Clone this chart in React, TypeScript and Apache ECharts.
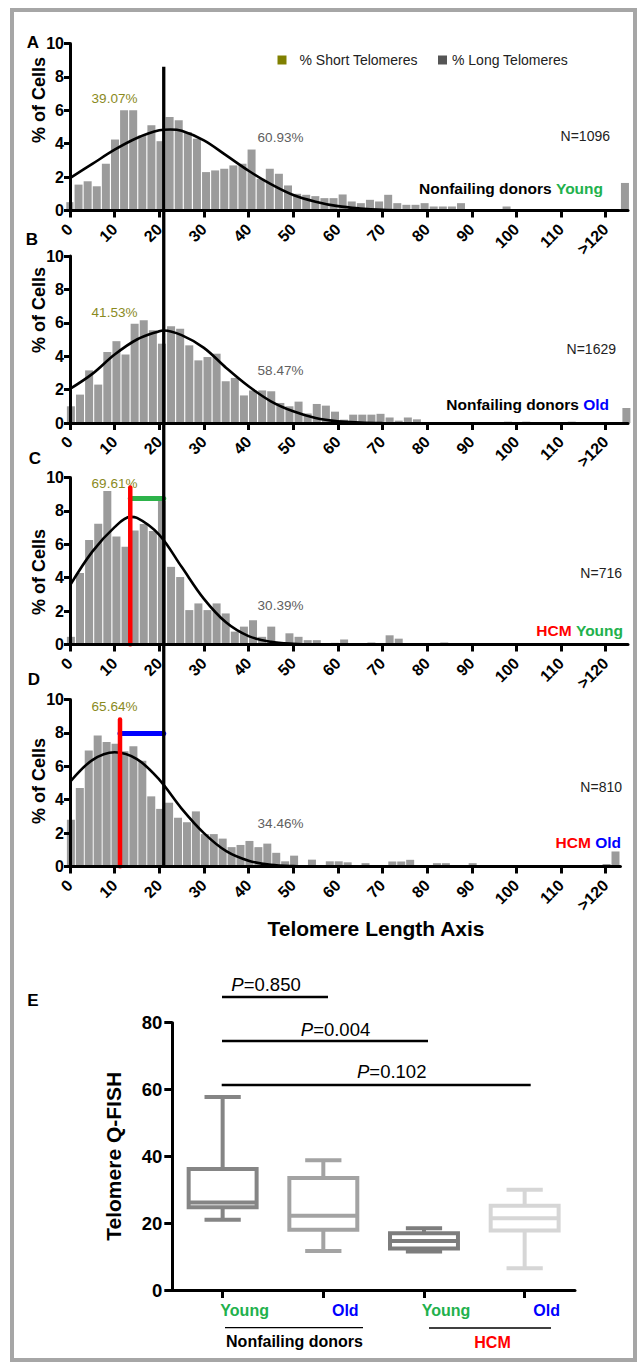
import React, { useEffect, useRef } from 'react';
import * as echarts from 'echarts';

const FONT = '"Liberation Sans", Arial, Helvetica, sans-serif';

// ---------- data ----------
const binLabels = ['0','2','4','6','8','10','12','14','16','18','20','22','24','26','28','30','32','34','36','38','40','42','44','46','48','50','52','54','56','58','60','62','64','66','68','70','72','74','76','78','80','82','84','86','88','90','92','94','96','98','100','102','104','106','108','110','112','114','116','118','120','>120'];
const xTickValues = [0, 10, 20, 30, 40, 50, 60, 70, 80, 90, 100, 110, 120];
const xTickLabels = ['0', '10', '20', '30', '40', '50', '60', '70', '80', '90', '100', '110', '>120'];

const barsA = [0.5,1.55,1.75,1.45,2.8,4.25,6.0,6.0,4.5,5.1, 4.15,5.6,5.4,4.7,4.3,2.3,2.4,2.5,2.7,2.8, 3.65,1.9,2.5,2.2,1.5,1.0,0.94,0.86,0.74,0.74, 0.96,0.54,0.44,0.64,0.54,0.94,0.44,0.34,0.34,0.44, 0.24,0.24,0.24,0.44,0,0,0,0,0.24,0, 0,0,0,0,0,0,0,0,0,0, 0,1.65];
const barsB = [1.0,1.7,3.15,2.3,4.25,4.9,4.1,5.95,6.15,5.55, 4.75,5.8,5.65,4.65,3.75,3.95,4.15,2.5,2.7,1.65, 1.95,1.95,1.9,1.2,1.0,1.28,0.57,1.14,1.04,0.68, 0.2,0.5,0.5,0.5,0.55,0.33,0.14,0.33,0.22,0, 0,0,0,0.06,0,0,0,0,0.08,0, 0.08,0,0,0,0,0.08,0,0,0,0, 0,0.9];
const barsC = [0.46,4.28,6.26,7.23,9.19,6.46,5.86,6.83,7.21,6.8, 8.6,4.65,4.04,2.06,2.46,2.06,2.46,1.86,0.77,1.07, 1.45,0.46,1.07,0,0.67,0.46,0.26,0.26,0.06,0.1, 0.3,0,0,0.12,0,0.55,0.35,0,0,0, 0,0.12,0,0,0,0,0,0,0,0, 0,0,0,0,0,0,0,0,0,0, 0,0];
const barsD = [2.8,4.7,6.95,7.85,7.45,7.35,6.9,7.2,6.33,4.2, 3.45,3.82,2.92,2.65,3.3,1.94,1.94,1.67,1.16,1.29, 1.53,1.16,1.37,0.82,0.31,0.65,0,0.41,0,0.31, 0.31,0.25,0,0.2,0,0,0.3,0.3,0.4,0, 0,0.2,0.2,0,0,0.2,0,0,0,0, 0,0,0,0,0,0,0,0,0,0, 0.15,0.9];

const curveA = [[0,1.94],[5,2.79],[10,3.64],[15,4.34],[20,4.8],[22.5,4.85],[25,4.77],[30,4.2],[35,3.3],[40,2.38],[45,1.58],[50,0.93],[55,0.53],[60,0.26],[65,0.12],[70,0.04],[75,0.01]];
const curveB = [[0,2.04],[5,2.94],[10,4.1],[15,5.0],[20,5.5],[21,5.54],[25,5.26],[30,4.5],[35,3.3],[40,2.2],[45,1.3],[50,0.7],[55,0.3],[60,0.1],[65,0.03],[70,0.0]];
const curveC = [[0,3.54],[5,5.56],[10,7.03],[13.5,7.64],[15,7.58],[20,6.57],[25,4.65],[30,2.73],[35,1.31],[40,0.5],[45,0.16],[50,0.04],[55,0.0]];
const curveD = [[0,5.06],[5,6.37],[10,6.84],[15,6.43],[20,5.2],[25,3.47],[30,2.0],[35,0.92],[40,0.35],[45,0.1],[50,0.02],[55,0.0]];

const shortPct = ['39.07%', '41.53%', '69.61%', '65.64%'];
const longPct = ['60.93%', '58.47%', '30.39%', '34.46%'];
const cellCounts = ['N=1096', 'N=1629', 'N=716', 'N=810'];
const groupFirst = ['Nonfailing donors ', 'Nonfailing donors ', 'HCM ', 'HCM '];
const groupSecond = ['Young', 'Old', 'Young', 'Old'];
const panelLetters = ['A', 'B', 'C', 'D'];

const centerLine = [[21, 0], [21, 1]];
const cRedLine = [[13.5, 0], [13.5, 9.4]];
const cGreenLine = [[13.5, 8.75], [21, 8.75]];
const dRedLine = [[11.2, 0], [11.2, 8.8]];
const dBlueLine = [[11.2, 7.96], [21, 7.96]];

const boxCategories = ['Young', 'Old', 'Young', 'Old'];
// [min, Q1, median, Q3, max]
const boxStats = [
  [21.0, 24.8, 26.2, 36.2, 57.8],
  [11.7, 18.0, 22.2, 33.5, 38.8],
  [11.5, 12.4, 14.7, 17.0, 18.5],
  [6.5, 17.8, 21.5, 25.2, 30.0],
];
const pLabels = ['0.850', '0.004', '0.102'];

// ---------- layout / style ----------
const GREEN = '#22b14c';
const BLUE = '#0000ff';
const RED = '#ff0000';
const OLIVE = '#808000';
const PLOT_LEFT = 70;
const PX_PER_UNIT = 4.464;
const PANEL_H = 167;
const panelTops = [43.5, 256, 477.5, 699.5];
const panelXMax = [125, 125, 125, 123.3];
const binSpacing = [2.04, 2.04, 2.04, 2.0];
const FIRST_BIN_CENTER = 0.2;
const shortPos = [[114.5, 98.5], [114.5, 312], [114.5, 483.5], [114.5, 706]];
const longPos = [[280.5, 137], [280.5, 370], [280.5, 605], [280.5, 823]];
const nPos = [[610, 136], [616, 349], [622, 573], [622, 787]];
const groupPos = [[603, 188], [609, 404], [623, 630], [621, 842]];
const letterPos = [[33, 42], [32, 239], [35, 458.5], [34, 679]];
const yNamePos = [[38.5, 100], [38.5, 310], [38.5, 572], [38.5, 781]];
const groupColors = [GREEN, BLUE, GREEN, BLUE];
const boxColors = ['#858585', '#a3a3a3', '#7d7d7d', '#d6d6d6'];

function txt(x: number, y: number, text: string, font: string, fill = '#000', align = 'center', rotation = 0, rich?: any) {
  return {
    type: 'text', x, y, rotation, silent: true,
    style: { text, font, fill, align, verticalAlign: 'middle', rich },
  };
}

function buildOption() {
  const bars = [barsA, barsB, barsC, barsD];
  const curves = [curveA, curveB, curveC, curveD];
  const grid: any[] = [];
  const xAxis: any[] = [];
  const yAxis: any[] = [];
  const series: any[] = [];
  const graphic: any[] = [];

  for (let p = 0; p < 4; p++) {
    const top = panelTops[p];
    grid.push({ left: PLOT_LEFT, top, width: panelXMax[p] * PX_PER_UNIT, height: PANEL_H, outerBoundsMode: 'none' });
    const sp = binSpacing[p];
    grid.push({
      left: PLOT_LEFT + (FIRST_BIN_CENTER - sp / 2) * PX_PER_UNIT,
      top,
      width: binLabels.length * sp * PX_PER_UNIT,
      height: PANEL_H,
      outerBoundsMode: 'none',
    });
    xAxis.push({
      gridIndex: 2 * p, type: 'value', min: 0, max: panelXMax[p], z: 5,
      axisLine: { show: true, onZero: false, lineStyle: { color: '#000', width: 3 } },
      axisTick: { show: true, customValues: xTickValues, length: 7, lineStyle: { color: '#000', width: 3 } },
      axisLabel: {
        show: true, customValues: xTickValues, rotate: 45, margin: 16,
        fontSize: 16, fontWeight: 'bold', color: '#000', fontFamily: FONT,
        formatter: (v: number) => xTickLabels[xTickValues.indexOf(v)] ?? '',
      },
      splitLine: { show: false },
    });
    yAxis.push({
      gridIndex: 2 * p, type: 'value', min: 0, max: 10, interval: 2, z: 5,
      axisLine: { show: true, lineStyle: { color: '#000', width: 3 } },
      axisTick: { show: true, length: 6, lineStyle: { color: '#000', width: 3 } },
      axisLabel: { fontSize: 16, fontWeight: 'bold', color: '#000', margin: 6, fontFamily: FONT },
      splitLine: { show: false },
    });
    xAxis.push({ gridIndex: 2 * p + 1, type: 'category', data: binLabels, show: false, boundaryGap: true });
    yAxis.push({ gridIndex: 2 * p + 1, type: 'value', min: 0, max: 10, show: false });

    series.push({
      type: 'bar', xAxisIndex: 2 * p + 1, yAxisIndex: 2 * p + 1, data: bars[p],
      barWidth: 8, itemStyle: { color: '#9b9b9b' }, silent: true,
    });
    series.push({
      type: 'line', xAxisIndex: 2 * p, yAxisIndex: 2 * p, data: curves[p], smooth: 0.35,
      symbol: 'none', lineStyle: { color: '#000', width: 2.6 }, silent: true,
    });

    graphic.push(txt(letterPos[p][0], letterPos[p][1], panelLetters[p], `bold 17px ${FONT}`));
    graphic.push(txt(yNamePos[p][0], yNamePos[p][1], '% of Cells', `bold 18px ${FONT}`, '#000', 'center', Math.PI / 2));
    graphic.push(txt(shortPos[p][0], shortPos[p][1], shortPct[p], `13.5px ${FONT}`, '#8a8a1e'));
    graphic.push(txt(longPos[p][0], longPos[p][1], longPct[p], `13.5px ${FONT}`, '#606060'));
    graphic.push(txt(nPos[p][0], nPos[p][1], cellCounts[p], `14px ${FONT}`, '#222', 'right'));
    graphic.push(txt(groupPos[p][0], groupPos[p][1], `{a|${groupFirst[p]}}{b|${groupSecond[p]}}`, `bold 15.5px ${FONT}`, '#000', 'right', 0, {
      a: { fill: p < 2 ? '#000' : RED, font: `bold 15.5px ${FONT}` },
      b: { fill: groupColors[p], font: `bold 15.5px ${FONT}` },
    }));
  }

  const markerLine = (data: number[][], axis: number, color: string, width: number) => ({
    type: 'line', xAxisIndex: axis, yAxisIndex: axis, data, symbol: 'none', silent: true,
    lineStyle: { color, width, cap: 'round' }, z: 4,
  });
  series.push(markerLine(cGreenLine, 4, '#2db34a', 5));
  series.push(markerLine(cRedLine, 4, RED, 4.5));
  series.push(markerLine(dBlueLine, 6, BLUE, 5));
  series.push(markerLine(dRedLine, 6, RED, 4.5));

  series.push({ type: 'bar', name: '% Short Telomeres', xAxisIndex: 1, yAxisIndex: 1, data: [], itemStyle: { color: OLIVE } });
  series.push({ type: 'bar', name: '% Long Telomeres', xAxisIndex: 1, yAxisIndex: 1, data: [], itemStyle: { color: '#555555' } });

  grid.push({ left: PLOT_LEFT, top: 66.7, width: 125 * PX_PER_UNIT, height: 801, outerBoundsMode: 'none' });
  xAxis.push({ gridIndex: 8, type: 'value', min: 0, max: 125, show: false });
  yAxis.push({ gridIndex: 8, type: 'value', min: 0, max: 1, show: false });
  series.push({
    type: 'line', xAxisIndex: 8, yAxisIndex: 8, data: centerLine, symbol: 'none', silent: true,
    lineStyle: { color: '#000', width: 3.3 }, z: 6,
  });

  grid.push({ left: 172.3, top: 1022.7, width: 402.7, height: 267.3, outerBoundsMode: 'none' });
  xAxis.push({
    gridIndex: 9, type: 'category', data: boxCategories, boundaryGap: true,
    axisLine: { show: true, lineStyle: { color: '#000', width: 3 } },
    axisTick: { show: true, alignWithLabel: true, length: 8, lineStyle: { color: '#000', width: 3 } },
    axisLabel: {
      margin: 12, padding: [0, 0, 0, 44], fontFamily: FONT,
      formatter: (v: string, i: number) => (i % 2 === 0 ? `{y|${v}}` : `{o|${v}}`),
      rich: {
        y: { color: GREEN, fontSize: 16, fontWeight: 'bold', fontFamily: FONT },
        o: { color: BLUE, fontSize: 16, fontWeight: 'bold', fontFamily: FONT },
      },
    },
  });
  yAxis.push({
    gridIndex: 9, type: 'value', min: 0, max: 80, interval: 20,
    name: 'Telomere Q-FISH', nameLocation: 'middle', nameGap: 48,
    nameTextStyle: { fontSize: 21, fontWeight: 'bold', color: '#000', fontFamily: FONT },
    axisLine: { show: true, lineStyle: { color: '#000', width: 3 } },
    axisTick: { show: true, length: 8, lineStyle: { color: '#000', width: 3 } },
    axisLabel: { fontSize: 18.5, fontWeight: 'bold', color: '#000', margin: 10, fontFamily: FONT },
    splitLine: { show: false },
  });
  series.push({
    type: 'custom', xAxisIndex: 9, yAxisIndex: 9, silent: true,
    data: boxStats.map((s, i) => [i, ...s]),
    encode: { x: 0, y: [1, 2, 3, 4, 5] },
    renderItem: (params: any, api: any) => {
      const idx = api.value(0);
      const pMin = api.coord([idx, api.value(1)]);
      const pQ1 = api.coord([idx, api.value(2)]);
      const pMed = api.coord([idx, api.value(3)]);
      const pQ3 = api.coord([idx, api.value(4)]);
      const pMax = api.coord([idx, api.value(5)]);
      const band = api.size([1, 0])[0];
      const bw = band * 0.675;
      const cw = band * 0.36;
      const cx = pMed[0];
      const color = boxColors[params.dataIndex];
      const ls = { stroke: color, lineWidth: 4, fill: null };
      return {
        type: 'group',
        children: [
          { type: 'line', shape: { x1: cx, y1: pMax[1], x2: cx, y2: pQ3[1] }, style: ls },
          { type: 'line', shape: { x1: cx, y1: pQ1[1], x2: cx, y2: pMin[1] }, style: ls },
          { type: 'line', shape: { x1: cx - cw / 2, y1: pMax[1], x2: cx + cw / 2, y2: pMax[1] }, style: ls },
          { type: 'line', shape: { x1: cx - cw / 2, y1: pMin[1], x2: cx + cw / 2, y2: pMin[1] }, style: ls },
          { type: 'rect', shape: { x: cx - bw / 2, y: pQ3[1], width: bw, height: pQ1[1] - pQ3[1] }, style: { stroke: color, lineWidth: 4, fill: '#fff' } },
          { type: 'line', shape: { x1: cx - bw / 2, y1: pMed[1], x2: cx + bw / 2, y2: pMed[1] }, style: ls },
        ],
      };
    },
  });

  graphic.push(txt(376, 928, 'Telomere Length Axis', `bold 21px ${FONT}`));
  graphic.push(txt(33, 1000, 'E', `bold 17px ${FONT}`));
  const pLinePos = [[222, 328, 997], [222, 428, 1041], [221.7, 530.7, 1085]];
  const pTextPos = [[266, 984], [335.5, 1029], [391.7, 1071.7]];
  for (let i = 0; i < 3; i++) {
    graphic.push({ type: 'line', silent: true, shape: { x1: pLinePos[i][0], y1: pLinePos[i][2], x2: pLinePos[i][1], y2: pLinePos[i][2] }, style: { stroke: '#000', lineWidth: 2.5 } });
    graphic.push(txt(pTextPos[i][0], pTextPos[i][1], `{i|P}{n|=${pLabels[i]}}`, `18.5px ${FONT}`, '#000', 'center', 0, {
      i: { fill: '#000', font: `italic 18.5px ${FONT}` },
      n: { fill: '#000', font: `18.5px ${FONT}` },
    }));
  }
  graphic.push({ type: 'line', silent: true, shape: { x1: 225, y1: 1327.7, x2: 363, y2: 1327.7 }, style: { stroke: '#000', lineWidth: 1.3 } });
  graphic.push({ type: 'line', silent: true, shape: { x1: 429, y1: 1328, x2: 551, y2: 1328 }, style: { stroke: '#000', lineWidth: 1.3 } });
  graphic.push(txt(294.5, 1341, 'Nonfailing donors', `bold 16px ${FONT}`));
  graphic.push(txt(492.5, 1342, 'HCM', `bold 16px ${FONT}`, RED));
  graphic.push({ type: 'rect', silent: true, shape: { x: 12, y: 10, width: 623, height: 1350 }, style: { stroke: '#a6a6a6', lineWidth: 4, fill: null }, z: -1 });

  return {
    animation: false,
    backgroundColor: '#ffffff',
    textStyle: { fontFamily: FONT },
    legend: [
      {
        data: ['% Short Telomeres'], left: 277.5, top: 53, padding: 0, itemWidth: 9, itemHeight: 9, icon: 'rect',
        selectedMode: false, textStyle: { fontSize: 14, color: '#222', fontFamily: FONT, padding: [0, 0, 0, 8] },
      },
      {
        data: ['% Long Telomeres'], left: 438, top: 53, padding: 0, itemWidth: 9, itemHeight: 9, icon: 'rect',
        selectedMode: false, textStyle: { fontSize: 14, color: '#222', fontFamily: FONT },
      },
    ],
    grid, xAxis, yAxis, series, graphic,
  };
}

export default function App() {
  const ref = useRef<HTMLDivElement>(null);
  useEffect(() => {
    if (!ref.current) return;
    const chart = echarts.init(ref.current, null, { renderer: 'svg' });
    chart.setOption(buildOption() as any);
    return () => chart.dispose();
  }, []);
  return (
    <div
      ref={ref}
      style={{ position: 'absolute', left: 0, top: 0, width: 644, height: 1370, background: '#fff' }}
    />
  );
}
